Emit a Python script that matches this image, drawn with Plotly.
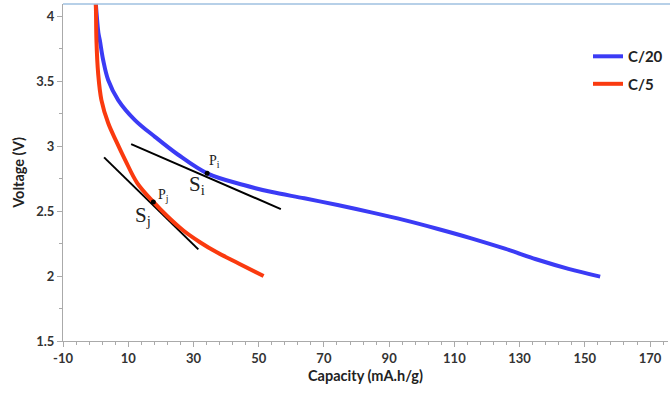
import plotly.graph_objects as go

# C/20 discharge curve
c20_cap = [0.0, 0.3, 0.86, 1.29, 2.31, 3.85, 6.92, 12.06, 18.2, 25.2, 34.2, 45.4, 53.7, 64.0, 74.2, 84.5, 94.7, 105.0, 115.2, 125.5, 135.8, 145.0, 154.7]
c20_v = [4.12, 4.02, 3.87, 3.815, 3.662, 3.508, 3.354, 3.20, 3.071, 2.935, 2.79, 2.70, 2.648, 2.598, 2.546, 2.49, 2.43, 2.362, 2.29, 2.21, 2.123, 2.055, 1.995]

# C/5 discharge curve
c5_cap = [0.0, 0.1, 0.25, 0.77, 1.78, 3.85, 6.31, 9.08, 12.77, 17.7, 22.0, 26.9, 32.0, 37.3, 44.0, 51.5]
c5_v = [4.12, 4.05, 3.815, 3.56, 3.354, 3.177, 3.038, 2.892, 2.715, 2.57, 2.46, 2.35, 2.26, 2.18, 2.095, 2.00]

# tangent lines
si_cap = [10.9, 56.8]
si_v = [3.015, 2.515]
sj_cap = [2.6, 31.5]
sj_v = [2.913, 2.205]

# tangent points
pt_cap = [34.2, 17.7]
pt_v = [2.79, 2.57]

x_ticks = [-10, 10, 30, 50, 70, 90, 110, 130, 150, 170]
y_ticks = [1.5, 2, 2.5, 3, 3.5, 4]
y_labels = ["1.5", "2", "2.5", "3", "3.5", "4"]

BLUE = "#3b3bf5"
RED = "#fa3a0f"
FONT = "Lato, Open Sans, sans-serif"

fig = go.Figure()
fig.add_trace(go.Scatter(x=si_cap, y=si_v, mode="lines", line=dict(color="black", width=2), showlegend=False, hoverinfo="skip"))
fig.add_trace(go.Scatter(x=sj_cap, y=sj_v, mode="lines", line=dict(color="black", width=2), showlegend=False, hoverinfo="skip"))
fig.add_trace(go.Scatter(x=c20_cap, y=c20_v, mode="lines", name="<b>C/20</b>", legendgroup="a",
                         line=dict(color=BLUE, width=4, shape="spline", smoothing=1.0)))
fig.add_trace(go.Scatter(x=c5_cap, y=c5_v, mode="lines", name="<b>C/5</b>", legendgroup="b",
                         line=dict(color=RED, width=4, shape="spline", smoothing=1.0)))
fig.add_trace(go.Scatter(x=pt_cap, y=pt_v, mode="markers", marker=dict(color="black", size=5), showlegend=False, hoverinfo="skip"))

tfont = dict(family="Liberation Serif, Times New Roman, serif", color="#222")
fig.add_annotation(x=36.4, y=2.885, text="P<sub>i</sub>", showarrow=False, font=dict(size=14, **tfont))
fig.add_annotation(x=20.7, y=2.62, text="P<sub>j</sub>", showarrow=False, font=dict(size=14, **tfont))
fig.add_annotation(x=31.2, y=2.70, text="S<sub>i</sub>", showarrow=False, font=dict(size=21, **tfont))
fig.add_annotation(x=14.6, y=2.46, text="S<sub>j</sub>", showarrow=False, font=dict(size=21, **tfont))

# thin light-blue border at the top of the plot
fig.add_shape(type="line", xref="paper", yref="paper", x0=0, x1=1.01, y0=1, y1=1,
              line=dict(color="#9fc0e0", width=1.5))

fig.update_layout(
    width=670, height=393,
    margin=dict(l=63, r=2, t=4, b=52),
    paper_bgcolor="white", plot_bgcolor="white",
    font=dict(family=FONT, color="#222"),
    legend=dict(x=1.0, y=0.893, xanchor="right", yanchor="top",
                font=dict(family=FONT, size=15, color="#222"),
                bgcolor="rgba(0,0,0,0)", tracegroupgap=5, itemwidth=30),
    xaxis=dict(range=[-10, 175.5], tickvals=x_ticks, ticktext=["<b>%d</b>" % v for v in x_ticks],
               showgrid=False, zeroline=False, showline=True, linecolor="#aaaaaa", linewidth=1,
               ticks="outside", ticklen=5, tickcolor="#aaaaaa",
               minor=dict(dtick=4, tick0=-10, ticks="outside", ticklen=3, tickcolor="#aaaaaa"),
               tickfont=dict(family=FONT, size=13, color="#333"),
               title=dict(text="<b>Capacity (mA.h/g)</b>", font=dict(family=FONT, size=14.5, color="#222"), standoff=6)),
    yaxis=dict(range=[1.5, 4.093], tickvals=y_ticks, ticktext=["<b>%s</b>" % s for s in y_labels],
               showgrid=False, zeroline=False, showline=True, linecolor="#aaaaaa", linewidth=1,
               ticks="outside", ticklen=5, tickcolor="#aaaaaa",
               minor=dict(dtick=0.25, tick0=1.5, ticks="outside", ticklen=3, tickcolor="#aaaaaa"),
               tickfont=dict(family=FONT, size=13, color="#333"),
               title=dict(text="<b>Voltage (V)</b>", font=dict(family=FONT, size=14.5, color="#222"), standoff=8)),
)

fig.write_html("out.html")
